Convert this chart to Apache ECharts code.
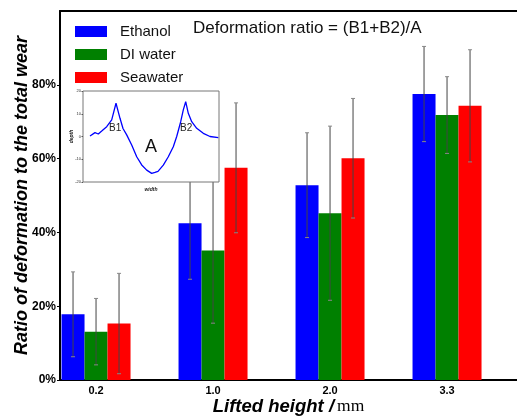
<!DOCTYPE html>
<html>
<head>
<meta charset="utf-8" />
<title>Deformation ratio</title>
<script src="https://cdn.jsdelivr.net/npm/echarts@6/dist/echarts.min.js"></script>
<style>
  html, body { margin: 0; padding: 0; background: #fff; }
  #main { width: 517px; height: 417px; }
</style>
</head>
<body>
<div id="main"></div>
<script type="text/javascript">
// lifted height categories
var categories = ['0.2', '1.0', '2.0', '3.3'];
var yTicks = [0, 0.2, 0.4, 0.6, 0.8];

// ratio of deformation (mean) and error (+/-)
var ethanol     = [0.178, 0.425, 0.528, 0.775];
var ethanolErr  = [0.115, 0.152, 0.142, 0.129];
var diWater     = [0.131, 0.351, 0.452, 0.718];
var diWaterErr  = [0.090, 0.197, 0.236, 0.104];
var seawater    = [0.153, 0.575, 0.601, 0.743];
var seawaterErr = [0.136, 0.176, 0.162, 0.152];

// inset: wear track profile
var profileWidth = [7, 12, 15.3, 19, 23.7, 28.7, 33, 37, 40, 43.7, 48.7, 53.7, 58.7, 63.7, 68.7, 72, 75, 80.3, 85.3, 90.3, 93.7, 97.7, 100.3, 102.7, 105.3, 108.7, 113.7, 120.3, 127, 135.3];
var profileDepth = [0.2, 1.7, 1.1, 2.5, 4.3, 7.3, 14.6, 8, 3.5, 0.7, -3.7, -8.9, -12.5, -14.8, -16.2, -15.8, -15.3, -12.6, -8.9, -4.5, 0, 6.5, 11.7, 15.3, 10.2, 6.5, 3.6, 1.4, 0, -0.5];

var BAR_W = 23;
var colors = ['#0000ff', '#008000', '#ff0000'];
var names = ['Ethanol', 'DI water', 'Seawater'];
var means = [ethanol, diWater, seawater];
var errs = [ethanolErr, diWaterErr, seawaterErr];

var chart = echarts.init(document.getElementById('main'));

var series = [];
means.forEach(function (vals, s) {
  series.push({
    name: names[s],
    type: 'bar',
    xAxisIndex: 0, yAxisIndex: 0,
    barWidth: BAR_W,
    barGap: '0%',
    itemStyle: { color: colors[s] },
    data: vals.map(function (v, i) { return [i, v]; })
  });
});
means.forEach(function (vals, s) {
  var dx = (s - 1) * BAR_W;
  series.push({
    type: 'custom',
    xAxisIndex: 0, yAxisIndex: 0,
    z: 3,
    silent: true,
    encode: { x: 0, y: 1 },
    data: vals.map(function (v, i) { return [i, v, errs[s][i]]; }),
    renderItem: function (params, api) {
      var x = api.value(0), v = api.value(1), e = api.value(2);
      var lo = api.coord([x, v - e]);
      var hi = api.coord([x, v + e]);
      var cx = lo[0] + dx;
      var st = { stroke: '#444', lineWidth: 1 };
      var cap = { stroke: '#888', lineWidth: 1 };
      return {
        type: 'group',
        children: [
          { type: 'line', shape: { x1: cx, y1: lo[1], x2: cx, y2: hi[1] }, style: st },
          { type: 'line', shape: { x1: cx - 2, y1: lo[1], x2: cx + 2, y2: lo[1] }, style: cap },
          { type: 'line', shape: { x1: cx - 2, y1: hi[1], x2: cx + 2, y2: hi[1] }, style: cap }
        ]
      };
    }
  });
});
series.push({
  type: 'line',
  xAxisIndex: 2, yAxisIndex: 1,
  z: 70,
  showSymbol: false,
  silent: true,
  lineStyle: { color: '#0000ff', width: 1.3 },
  data: profileWidth.map(function (w, i) { return [w, profileDepth[i]]; }),
  markLine: {
    silent: true,
    symbol: 'none',
    label: { show: false },
    lineStyle: { color: '#000', width: 1.5, type: 'solid' },
    data: [{ yAxis: 0 }]
  }
});

var option = {
  animation: false,
  textStyle: { fontFamily: 'Liberation Sans' },
  title: {
    text: 'Deformation ratio = (B1+B2)/A',
    left: 193, top: 20, padding: 0,
    textStyle: { fontSize: 17, fontWeight: 'normal', color: '#111', fontFamily: 'Liberation Sans' }
  },
  legend: {
    orient: 'vertical',
    left: 75, top: 24, padding: 0,
    itemWidth: 32, itemHeight: 11, itemGap: 8,
    icon: 'rect',
    data: names,
    textStyle: { fontSize: 15, lineHeight: 15, color: '#111', padding: [0, 0, 0, 8] }
  },
  grid: [
    { left: 60, top: 11, right: 0, bottom: 37, outerBoundsMode: 'none', containLabel: false },
    { left: 83, top: 91, width: 136, height: 91, outerBoundsMode: 'none', containLabel: false, show: true, backgroundColor: '#fff', borderColor: '#777', borderWidth: 1, z: 50 }
  ],
  xAxis: [
    {
      type: 'value', gridIndex: 0,
      min: -0.308, max: 3.598,
      name: '{a|Lifted height /}{b|mm}',
      nameLocation: 'middle', nameGap: 17, nameMoveOverlap: false,
      nameTextStyle: {
        rich: {
          a: { fontSize: 18.5, fontWeight: 'bold', fontStyle: 'italic', color: '#000', fontFamily: 'Liberation Sans', padding: [0, 3, 0, 0] },
          b: { fontSize: 17.5, color: '#000', fontFamily: 'Liberation Serif' }
        }
      },
      axisLine: { show: true, onZero: false, lineStyle: { color: '#000', width: 2 } },
      axisTick: { show: false },
      splitLine: { show: false },
      axisLabel: {
        customValues: [0, 1, 2, 3],
        formatter: function (v) { return categories[Math.round(v)]; },
        fontSize: 11, fontWeight: 'bold', color: '#000', margin: 5
      }
    },
    {
      type: 'value', gridIndex: 0, position: 'top',
      min: -0.308, max: 3.598,
      axisLine: { show: true, onZero: false, lineStyle: { color: '#000', width: 2 } },
      axisTick: { show: false }, axisLabel: { show: false }, splitLine: { show: false }
    },
    {
      type: 'value', gridIndex: 1,
      min: 0, max: 136,
      z: 60,
      name: 'width', nameLocation: 'middle', nameGap: 5, nameMoveOverlap: false,
      nameTextStyle: { fontSize: 5, fontWeight: 'bold', fontStyle: 'italic', color: '#222' },
      axisLine: { show: false, onZero: false },
      axisTick: { show: false }, axisLabel: { show: false }, splitLine: { show: false }
    }
  ],
  yAxis: [
    {
      type: 'value', gridIndex: 0,
      min: 0, max: 1, interval: 0.2,
      name: 'Ratio of deformation to the total wear',
      nameLocation: 'middle', nameGap: 29, nameRotate: 90, nameMoveOverlap: false,
      nameTextStyle: { fontSize: 18, fontWeight: 'bold', fontStyle: 'italic', color: '#000' },
      axisLine: { show: true, onZero: false, lineStyle: { color: '#000', width: 2 } },
      axisTick: { show: true, length: 3, customValues: yTicks, lineStyle: { color: '#000' } },
      splitLine: { show: false },
      axisLabel: {
        customValues: yTicks,
        formatter: function (v) { return Math.round(v * 100) + '%'; },
        fontSize: 12, fontWeight: 'bold', color: '#000', margin: 4
      }
    },
    {
      type: 'value', gridIndex: 1,
      min: -20, max: 20, interval: 10,
      z: 60,
      name: 'depth', nameLocation: 'middle', nameGap: 9, nameRotate: 90, nameMoveOverlap: false,
      nameTextStyle: { fontSize: 5, fontWeight: 'bold', fontStyle: 'italic', color: '#222' },
      axisLine: { show: false, onZero: false },
      axisTick: { show: true, length: 1.5, lineStyle: { color: '#555' } },
      splitLine: { show: false },
      axisLabel: { fontSize: 4, color: '#333', margin: 2 }
    }
  ],
  graphic: [
    { type: 'text', left: 109, top: 123, z: 100, style: { text: 'B1', fontSize: 10, fill: '#222', fontFamily: 'Liberation Sans' } },
    { type: 'text', left: 180, top: 123, z: 100, style: { text: 'B2', fontSize: 10, fill: '#222', fontFamily: 'Liberation Sans' } },
    { type: 'text', left: 145, top: 138, z: 100, style: { text: 'A', fontSize: 18, fill: '#111', fontFamily: 'Liberation Sans' } }
  ],
  series: series
};

chart.setOption(option);
</script>
</body>
</html>
